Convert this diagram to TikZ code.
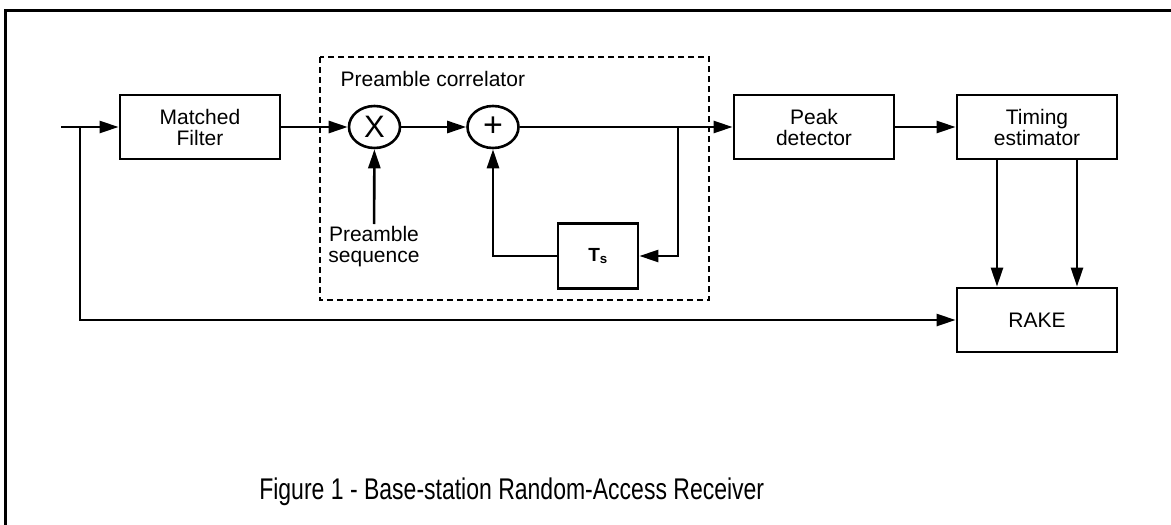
\documentclass[tikz,border=0pt]{standalone}
\usepackage{fontspec}
\setmainfont{Liberation Sans}
\usepackage{tikz}
\usetikzlibrary{arrows.meta,positioning,shapes.geometric}

\begin{document}
\begin{tikzpicture}[x=1pt, y=-1pt, line width=2.6,
    >={Triangle[length=19pt,width=12pt]},
    font=\fontsize{21}{21}\selectfont,
    block/.style={draw, line width=2.8, minimum width=160, minimum height=64, align=center, inner sep=2},
    sumnode/.style={draw, ellipse, line width=2.6, minimum width=51, minimum height=42, inner sep=0}]
    \useasboundingbox (0,0) rectangle (1171,525);
    \draw[line width=3] (5,525) -- (5,10) -- (1171,10);
    \draw[dashed, line width=2.2, dash pattern=on 6pt off 4pt] (320,57) rectangle (709,300);
    \node[anchor=base west] (corrlab) at (336,86) {Preamble correlator};
    \node[block] (mf) at (200,127) {Matched\\Filter};
    \node[sumnode, font=\fontsize{31}{31}\selectfont] (mul) at (374.5,127) {X};
    \node[sumnode, font=\fontsize{34}{34}\selectfont] (add) at (493,127) {+};
    \node[block, minimum width=80, minimum height=65] (ts) at (598,256) {\fontsize{19}{19}\selectfont\textbf{T\textsubscript{s}}};
    \node[block] (pd) at (814,127) {Peak\\detector};
    \node[block] (te) at (1037,127) {Timing\\estimator};
    \node[block] (rake) at (1037,320) {RAKE};
    \node[align=center, anchor=north, inner sep=1] (psq) at (374,224) {Preamble\\sequence};
    \node[anchor=west, inner sep=0] (cap) at (258,492) {\scalebox{1}[1.3]{\fontsize{23}{30}\selectfont Figure 1 - Base-station Random-Access Receiver}};
    \coordinate (in) at (61,127);
    \coordinate (tap) at (80,127);
    \coordinate (fb) at (678,127);
    \draw[->] (in) -- (mf);
    \draw[->] (mf) -- (mul);
    \draw[->] (psq) -- (mul);
    \draw[->] (mul) -- (add);
    \draw[->] (add) -- (pd);
    \draw[->] (fb) |- (ts);
    \draw[->] (ts) -| (add);
    \draw[->] (pd) -- (te);
    \foreach \dx in {-40,40} {
        \draw[->] ([xshift=\dx]te.south) -- ([xshift=\dx]rake.north);
    }
    \draw[->] (tap) |- (rake);
\end{tikzpicture}
\end{document}
